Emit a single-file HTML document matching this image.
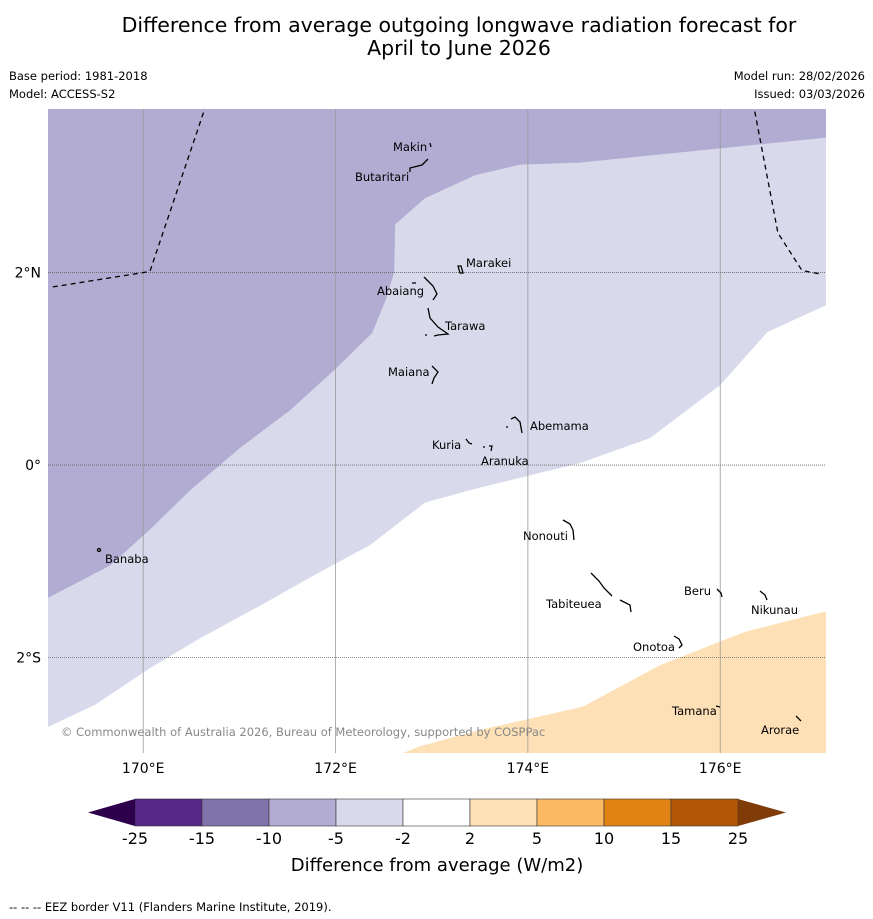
<!DOCTYPE html>
<html><head><meta charset="utf-8"><style>
body{margin:0;background:#fff;font-family:"DejaVu Sans","Liberation Sans",sans-serif;}
svg{display:block}
</style></head><body>
<svg width="873" height="919" xmlns="http://www.w3.org/2000/svg" font-family="DejaVu Sans, Liberation Sans, sans-serif">
<text x="459" y="32" font-size="20.5" text-anchor="middle">Difference from average outgoing longwave radiation forecast for</text>
<text x="459" y="55" font-size="20.5" text-anchor="middle">April to June 2026</text>
<text x="9" y="80" font-size="11.5">Base period: 1981-2018</text>
<text x="9" y="98" font-size="11.5">Model: ACCESS-S2</text>
<text x="865" y="80" font-size="11.5" text-anchor="end">Model run: 28/02/2026</text>
<text x="865" y="98" font-size="11.5" text-anchor="end">Issued: 03/03/2026</text>
<defs><clipPath id="mapclip"><rect x="48" y="109" width="778" height="644"/></clipPath></defs>
<g id="map" clip-path="url(#mapclip)">
<rect x="48" y="109" width="778" height="644" fill="#ffffff"/>
</g>
<g id="grid"></g>
<g id="islands" fill="none" stroke="#000" stroke-width="1.3">
<path d="M430,143 l1,4 M428,159 l-6,6 l-12,3 l0,4"/>
<path d="M458,266 l2,7 l3,0 l-2,-7 z"/>
<path d="M424,277 l9,9 l4,8 l-4,6 M412,283 l4,0"/>
<path d="M428,308 l2,10 l8,9 l10,7 l-10,1 l-4,1 M425,335 l2,0"/>
<path d="M432,366 l6,6 l-4,6 l-2,6"/>
<path d="M511,419 l4,-2 l5,5 l2,11 M506,427 l2,0"/>
<path d="M466,439 l3,4 l3,1 M483,447 l2,0 M489,446 l3,0 l-1,5"/>
<path d="M563,520 l7,4 l3,6 l1,10"/>
<path d="M591,573 l8,8 l5,7 l8,8 M620,600 l10,5 l1,7"/>
<path d="M717,589 l4,4 l1,4 M760,591 l5,4 l2,5"/>
<path d="M674,636 l5,3 l3,6 l-3,3"/>
<path d="M716,706 l4,1 M796,716 l5,5"/>
<circle cx="99" cy="550" r="1.5"/>
</g>
<g font-size="11.5" fill="#000">
<text x="393" y="151">Makin</text>
<text x="355" y="181">Butaritari</text>
<text x="466" y="267">Marakei</text>
<text x="377" y="295">Abaiang</text>
<text x="445" y="330">Tarawa</text>
<text x="388" y="376">Maiana</text>
<text x="530" y="430">Abemama</text>
<text x="432" y="449">Kuria</text>
<text x="481" y="465">Aranuka</text>
<text x="523" y="540">Nonouti</text>
<text x="105" y="563">Banaba</text>
<text x="546" y="608">Tabiteuea</text>
<text x="684" y="595">Beru</text>
<text x="751" y="614">Nikunau</text>
<text x="633" y="651">Onotoa</text>
<text x="672" y="715">Tamana</text>
<text x="761" y="734">Arorae</text>
</g>
<text x="61" y="736" font-size="11.5" fill="#888">© Commonwealth of Australia 2026, Bureau of Meteorology, supported by COSPPac</text>
<g id="axislabels" font-size="14"></g>
<g id="colorbar"></g>
<text x="437" y="871" font-size="18" text-anchor="middle">Difference from average (W/m2)</text>
<text x="9" y="911" font-size="11.5">--  --  -- EEZ border V11 (Flanders Marine Institute, 2019).</text>
</svg>
<script>
const NS='http://www.w3.org/2000/svg';
const lonTicks=[170,172,174,176];
const lonLabels=['170°E','172°E','174°E','176°E'];
const latTicks=[2,0,-2];
const latLabels=['2°N','0°','2°S'];
const darkBoundary=[[177.10,3.40],[174.54,3.14],[173.92,3.12],[173.45,3.01],[172.93,2.77],[172.62,2.50],[172.61,2.00],[172.52,1.71],[172.38,1.37],[171.99,0.99],[171.53,0.57],[171.01,0.18],[170.49,-0.26],[170.07,-0.67],[169.66,-1.04],[169.01,-1.38]];
const lightBoundary=[[169.01,-2.72],[169.50,-2.49],[170.07,-2.11],[170.59,-1.80],[171.27,-1.43],[171.84,-1.11],[172.36,-0.83],[172.93,-0.39],[173.40,-0.26],[174.54,0.02],[175.27,0.28],[176.00,0.83],[176.49,1.38],[177.10,1.66]];
const orangeBoundary=[[172.70,-2.99],[172.88,-2.92],[173.50,-2.75],[174.57,-2.51],[175.37,-2.08],[176.26,-1.73],[177.10,-1.52]];
const eezWest=[[169.06,1.85],[170.07,2.01],[170.64,3.70]];
const eezEast=[[176.36,3.67],[176.60,2.41],[176.85,2.02],[177.06,1.98]];
const cbLevels=['-25','-15','-10','-5','-2','2','5','10','15','25'];
const cbColors=['#542788','#8073ac','#b2abd2','#d8daeb','#ffffff','#fee0b6','#fdb863','#e08214','#b35806'];
const X0=169.01,X1=177.10,Y0=3.697,Y1=-2.99;
const px=lon=>48+(lon-X0)/(X1-X0)*778;
const py=lat=>109+(Y0-lat)/(Y0-Y1)*644;
const pts=a=>a.map(p=>px(p[0]).toFixed(1)+','+py(p[1]).toFixed(1)).join(' ');
const map=document.getElementById('map');
function poly(a,fill,name){const e=document.createElementNS(NS,'polygon');e.setAttribute('points',pts(a));e.setAttribute('fill',fill);


map.appendChild(e);}
poly([[X0,Y0+0.1],[X1,Y0+0.1]].concat(lightBoundary.slice().reverse()).concat([[X0,Y0+0.1]]),'#d8daeb','region-minus5-to-minus2');
poly([[X0,Y0+0.1],[X1,Y0+0.1]].concat(darkBoundary),'#b2abd2','region-minus10-to-minus5');
poly(orangeBoundary.concat([[X1,Y1-0.1]]),'#fee0b6','region-2-to-5');
const grid=document.getElementById('grid');
lonTicks.forEach((l,i)=>{const e=document.createElementNS(NS,'line');e.setAttribute('x1',px(l));e.setAttribute('x2',px(l));e.setAttribute('y1',109);e.setAttribute('y2',753);e.setAttribute('stroke','#999');e.setAttribute('stroke-width','0.8');


grid.appendChild(e);
const t=document.createElementNS(NS,'text');t.setAttribute('x',px(l));t.setAttribute('y',773);t.setAttribute('text-anchor','middle');t.setAttribute('font-size','14');t.textContent=lonLabels[i];


document.getElementById('axislabels').appendChild(t);});
latTicks.forEach((l,i)=>{const e=document.createElementNS(NS,'line');e.setAttribute('x1',48);e.setAttribute('x2',826);e.setAttribute('y1',py(l));e.setAttribute('y2',py(l));e.setAttribute('stroke','#666');e.setAttribute('stroke-width','0.8');e.setAttribute('stroke-dasharray','1,1');


grid.appendChild(e);
const t=document.createElementNS(NS,'text');t.setAttribute('x',41);t.setAttribute('y',py(l)+5);t.setAttribute('text-anchor','end');t.setAttribute('font-size','14');t.textContent=latLabels[i];


document.getElementById('axislabels').appendChild(t);});
[[eezWest,'eez-west'],[eezEast,'eez-east']].forEach(([a,n])=>{const e=document.createElementNS(NS,'polyline');e.setAttribute('points',pts(a));e.setAttribute('fill','none');e.setAttribute('stroke','#000');e.setAttribute('stroke-width','1.3');e.setAttribute('stroke-dasharray','5,4');


grid.appendChild(e);});
const cb=document.getElementById('colorbar');
const cx0=135,cw=67,cy=799,ch=27;
cbColors.forEach((c,i)=>{const r=document.createElementNS(NS,'rect');r.setAttribute('x',cx0+i*cw);r.setAttribute('y',cy);r.setAttribute('width',cw);r.setAttribute('height',ch);r.setAttribute('fill',c);r.setAttribute('stroke','#333');r.setAttribute('stroke-width','0.6');


cb.appendChild(r);});
const lt=document.createElementNS(NS,'polygon');lt.setAttribute('points',`${cx0},${cy} ${cx0},${cy+ch} 88,${cy+ch/2}`);lt.setAttribute('fill','#2d004b');


cb.appendChild(lt);
const xe=cx0+cbColors.length*cw;
const rt=document.createElementNS(NS,'polygon');rt.setAttribute('points',`${xe},${cy} ${xe},${cy+ch} 786,${cy+ch/2}`);rt.setAttribute('fill','#7f3b08');


cb.appendChild(rt);
cbLevels.forEach((v,i)=>{const t=document.createElementNS(NS,'text');t.setAttribute('x',cx0+i*cw);t.setAttribute('y',844);t.setAttribute('text-anchor','middle');t.setAttribute('font-size','16');t.textContent=v;


cb.appendChild(t);});
</script>
</body></html>
